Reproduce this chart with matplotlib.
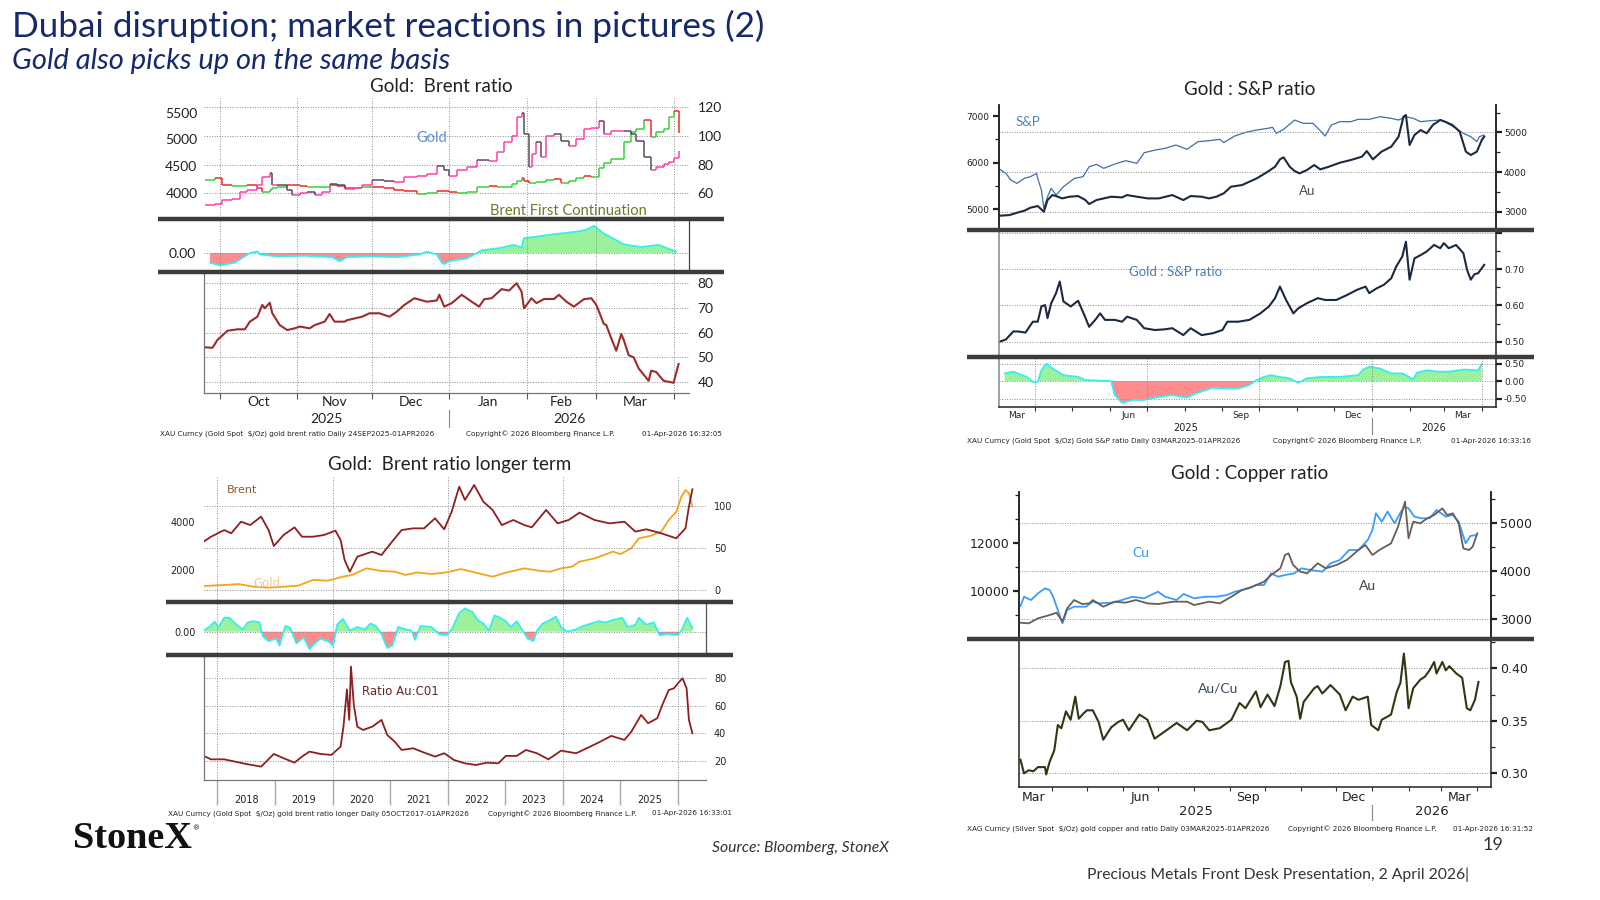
import numpy as np
import pandas as pd
import matplotlib
matplotlib.use("Agg")
import matplotlib.pyplot as plt
from matplotlib.lines import Line2D
from matplotlib.collections import LineCollection

plt.rcParams['font.family'] = ['DejaVu Sans']

# ---------------- data ----------------
# Gold : Brent ratio (short term), x = days after 24 Sep 2025
tl_day = [1, 5, 8, 12, 15, 18, 22, 24, 27, 28, 30, 34, 36, 39, 42, 45, 48, 51, 54, 57,
          61, 64, 68, 73, 77, 81, 86, 90, 94, 97, 99, 102, 106, 110, 115, 118, 121, 124, 126, 128,
          129, 131, 132, 134, 136, 138, 141, 144, 147, 150, 153, 156, 159, 161, 164, 169, 172, 174, 177, 180,
          182, 185, 187, 189, 191]
tl_gold = [3770, 3800, 3865, 3895, 4020, 4050, 4140, 4300, 4370, 4140, 4140, 4050, 3960, 4000, 4020, 3960, 4020, 4170, 4140, 4080,
           4100, 4140, 4235, 4220, 4200, 4300, 4320, 4360, 4510, 4420, 4310, 4420, 4480, 4620, 4590, 4760, 4945, 5070, 5410, 5500,
           5100, 4480, 4730, 4945, 4670, 5070, 5100, 4975, 4880, 5010, 5190, 5220, 5345, 5100, 5160, 5160, 5100, 4975, 4670, 4420,
           4480, 4545, 4575, 4655, 4790]
tl_brent = [69.3, 70.5, 65.8, 64.9, 65.3, 65.8, 63.5, 61.2, 62.5, 64.0, 64.7, 65.8, 65.5, 65.0, 64.2, 64.2, 64.5, 65.8, 65.0, 64.0,
            63.5, 64.2, 64.2, 63.5, 62.3, 61.9, 59.5, 60.5, 61.9, 61.5, 61.2, 60.5, 61.2, 64.5, 65.0, 64.7, 64.7, 66.5, 68.5, 70.5,
            68.5, 67.0, 67.5, 68.0, 68.1, 69.0, 69.8, 67.4, 68.5, 70.5, 72.1, 71.5, 77.5, 81.0, 84.0, 96.0, 103, 105, 111, 99.5,
            103, 105, 113.5, 117.7, 101.9]
tl_rel_day = [3, 7, 13, 19, 22, 23, 30, 41, 52, 55, 58, 67, 78, 87, 90, 94, 96, 97, 99, 102,
              106, 109, 112, 119, 125, 128, 129, 134, 140, 150, 154, 157, 161, 169, 176, 183, 190]
tl_rel = [-0.35, -0.45, -0.35, 0.0, 0.06, -0.05, -0.12, -0.10, -0.15, -0.30, -0.15, -0.12, -0.15, -0.05, 0.05, -0.05, -0.35, -0.40, -0.30, -0.25,
          -0.20, -0.05, 0.10, 0.18, 0.30, 0.20, 0.55, 0.60, 0.68, 0.78, 0.85, 1.00, 0.72, 0.32, 0.22, 0.30, 0.05]
tl_ratio_day = [1, 4, 6, 10, 14, 17, 19, 22, 24, 25, 27, 28, 31, 34, 37, 39, 43, 45, 49, 51, 53, 57, 58,
                64, 67, 71, 75, 78, 81, 85, 90, 94, 95, 97, 100, 104, 108, 111, 113, 116, 120, 123, 126,
                128, 129, 132, 134, 137, 141, 143, 146, 149, 153, 156,
                158, 161, 162, 164, 166, 168, 169, 171, 173, 175, 179, 180, 182, 185, 189, 191]
tl_ratio = [54, 53.8, 57, 60.7, 61.3, 61.3, 64.4, 66.4, 71.2, 69.8, 72.1, 67.8, 63, 61, 61.7, 62.4, 61.7, 63, 64.4, 67.5, 64.4, 64.4, 65,
            66.4, 67.8, 67.8, 66.4, 68.5, 71.2, 73.9, 72.5, 73, 75.3, 70.5, 71.9, 75.3, 72.5, 70.5, 73.5, 73.9, 77.6, 77, 80,
            76.6, 69.8, 73.9, 71.9, 73.6, 73.6, 75.3, 72.5, 70.5, 73.5, 73.9,
            71.2, 63.5, 63, 57.6, 52.6, 59.4, 57, 50.8, 49.9, 45.4, 40.4, 44.5, 44, 40.4, 39.6, 47.2]

# Gold : Brent ratio longer term, x = decimal year
lt_gold_yr = [2017.76, 2018.12, 2018.37, 2018.63, 2018.89, 2019.15, 2019.40, 2019.66, 2019.92, 2020.18,
              2020.34, 2020.59, 2020.82, 2021.08, 2021.27, 2021.46, 2021.72, 2021.98, 2022.23, 2022.49,
              2022.78, 2023.01, 2023.33, 2023.59, 2023.78, 2023.97, 2024.16, 2024.29, 2024.55, 2024.87,
              2025.00, 2025.19, 2025.32, 2025.52, 2025.71, 2025.84, 2025.97, 2026.06, 2026.13, 2026.19, 2026.25]
lt_gold = [1338, 1380, 1420, 1310, 1270, 1310, 1350, 1590, 1560, 1725, 1795, 2070, 1970, 1930, 1795, 1900, 1835, 1900, 2040, 1890,
           1725, 1890, 2070, 1970, 1930, 2070, 2140, 2345, 2480, 2760, 2660, 2900, 3310, 3410, 3590, 4070, 4410, 5035, 5310, 5170, 4620]
lt_brent_yr = [2017.76, 2017.89, 2018.12, 2018.24, 2018.41, 2018.57, 2018.76, 2018.89, 2018.98, 2019.15,
               2019.34, 2019.47, 2019.66, 2019.85, 2020.05, 2020.14, 2020.21, 2020.30, 2020.43, 2020.69,
               2020.85, 2021.01, 2021.20, 2021.40, 2021.59, 2021.78, 2021.94, 2022.07, 2022.20, 2022.30,
               2022.46, 2022.62, 2022.78, 2022.94, 2023.14, 2023.33, 2023.46, 2023.71, 2023.91, 2024.10,
               2024.29, 2024.55, 2024.81, 2025.07, 2025.26, 2025.45, 2025.71, 2025.97, 2026.13, 2026.19, 2026.25]
lt_brent = [57.3, 63.2, 71.1, 67.2, 81, 77, 87, 71, 52.2, 65.2, 74.3, 63.2, 63.2, 65.2, 70.4, 59.3, 35.6, 21.7, 39.5, 45.5,
            41.5, 55.3, 71.1, 73.1, 73.1, 85, 72, 92.9, 122.5, 106.7, 124.5, 104.7, 94.9, 77, 83, 77, 74.3, 94.9, 79, 83,
            91.7, 83, 79, 81, 69.2, 72, 67.2, 61.3, 73.1, 98.8, 119.4]
lt_rel_yr = [2017.76, 2017.86, 2017.95, 2018.02, 2018.12, 2018.21, 2018.31, 2018.44, 2018.53, 2018.63, 2018.73, 2018.79,
             2018.89, 2019.02, 2019.08, 2019.18, 2019.27, 2019.37, 2019.50, 2019.60, 2019.69, 2019.79, 2019.92, 2020.01,
             2020.08, 2020.18, 2020.30, 2020.43, 2020.56, 2020.66, 2020.75, 2020.85, 2020.95, 2021.04, 2021.14, 2021.27,
             2021.37, 2021.43, 2021.53, 2021.72, 2021.85, 2021.98, 2022.07, 2022.20, 2022.30, 2022.43, 2022.52, 2022.62,
             2022.72, 2022.81, 2022.91, 2023.01, 2023.10, 2023.20, 2023.30, 2023.39, 2023.49, 2023.55, 2023.65, 2023.78,
             2023.88, 2023.97, 2024.07, 2024.23, 2024.36, 2024.49, 2024.62, 2024.74, 2024.87, 2025.03, 2025.13, 2025.26,
             2025.32, 2025.45, 2025.58, 2025.68, 2025.81, 2025.90, 2026.00, 2026.06, 2026.16, 2026.25]
lt_rel = [0.05, 0.2, 0.43, 0.2, 0.6, 0.6, 0.35, 0.1, 0.4, 0.45, 0.4, -0.2,
          -0.4, -0.3, -0.6, 0.25, 0.15, -0.5, -0.25, -0.75, -0.5, -0.3, -0.4, -0.6,
          0.3, 0.55, 0.05, 0.2, 0.1, 0.35, 0.25, -0.1, -0.7, -0.6, 0.2, 0.1,
          0.05, -0.35, 0.25, 0.2, -0.1, -0.15, 0.1, 0.8, 1.0, 0.85, 0.5, 0.35,
          0.05, 0.7, 0.6, 0.45, 0.2, 0.45, 0.05, -0.3, -0.4, 0.05, 0.35, 0.5,
          0.65, 0.2, 0.0, 0.1, 0.25, 0.35, 0.45, 0.4, 0.5, 0.6, 0.2, 0.3,
          0.6, 0.3, 0.4, -0.15, -0.1, -0.12, -0.15, 0.05, 0.6, 0.15]
lt_ratio_yr = [2017.76, 2017.89, 2018.12, 2018.31, 2018.50, 2018.76, 2018.98, 2019.15, 2019.34, 2019.47, 2019.60, 2019.79,
               2019.98, 2020.14, 2020.19, 2020.25, 2020.29, 2020.32, 2020.37, 2020.43, 2020.53, 2020.69, 2020.85, 2020.95,
               2021.08, 2021.20, 2021.40, 2021.59, 2021.78, 2021.94, 2022.11, 2022.30, 2022.49, 2022.68, 2022.88, 2023.01,
               2023.20, 2023.36, 2023.55, 2023.75, 2023.97, 2024.23, 2024.45, 2024.65, 2024.84, 2025.07, 2025.19, 2025.36,
               2025.48, 2025.64, 2025.74, 2025.84, 2025.93, 2026.00, 2026.08, 2026.15, 2026.19, 2026.25]
lt_ratio = [23.7, 21.2, 21.2, 19.5, 17.8, 15.9, 25.1, 22, 18.8, 23.2, 26.8, 25.1,
            24.4, 30.4, 44.9, 72, 49.8, 88.5, 60.7, 44.9, 42.5, 44.9, 49.8, 38.9,
            34, 28, 29.2, 26.1, 23.2, 25.6, 20.7, 18.3, 17.1, 18.8, 18.3, 23.7,
            23.7, 28, 25.6, 21.2, 27.5, 25.6, 29.9, 34, 38.2, 35.3, 41.3, 53.4,
            47.4, 51, 61.9, 71.5, 72.7, 76.4, 80, 72.7, 49.8, 40.1]

# Gold : S&P ratio, x = days after 3 Mar 2025
sp_day = [0, 5, 9, 14, 20, 25, 30, 31, 34, 36, 39, 42, 46, 52, 61, 68, 73, 79, 85, 94,
          103, 112, 118, 127, 135, 144, 153, 162, 171, 180, 183, 192, 201, 210, 219, 223, 226, 232, 241, 248,
          256, 263, 266, 271, 278, 287, 293, 302, 311, 320, 326, 332, 338, 344, 352, 361, 367, 373, 379, 385,
          390, 392, 396]
sp_val = [5857, 5771, 5629, 5557, 5664, 5700, 5771, 5664, 5414, 5021, 5271, 5450, 5307, 5486, 5664, 5700, 5914, 5964, 5879, 5971,
          6043, 5986, 6214, 6271, 6307, 6379, 6286, 6450, 6471, 6500, 6429, 6571, 6650, 6700, 6736, 6757, 6629, 6714, 6914, 6843,
          6843, 6657, 6571, 6807, 6879, 6879, 6929, 6929, 6986, 6950, 6914, 6986, 6950, 6879, 6900, 6914, 6829, 6736, 6629, 6557,
          6450, 6557, 6593]
au_sp_day = [0, 8, 14, 20, 25, 31, 36, 39, 43, 46, 51, 57, 64, 70, 73, 79, 85, 91, 100, 104,
             112, 121, 130, 141, 150, 156, 165, 171, 177, 183, 189, 198, 204, 210, 219, 225, 229, 232, 237, 241,
             245, 251, 257, 262, 269, 278, 287, 296, 300, 305, 312, 320, 326, 330, 332, 335, 339, 344, 349, 354,
             360, 364, 370, 376, 381, 385, 390, 394, 396]
au_sp_val = [2899, 2916, 2975, 3025, 3101, 3143, 3000, 3294, 3420, 3395, 3336, 3378, 3395, 3294, 3193, 3294, 3336, 3378, 3361, 3420,
             3378, 3336, 3336, 3420, 3294, 3395, 3378, 3336, 3378, 3462, 3630, 3672, 3756, 3840, 4008, 4134, 4319, 4370, 4134, 4025,
             3966, 4050, 4176, 4067, 4134, 4235, 4303, 4387, 4529, 4319, 4513, 4639, 4891, 5395, 5437, 4681, 4933, 5059, 4975, 5185,
             5311, 5269, 5185, 5017, 4513, 4429, 4513, 4807, 4891]
gs_day = [0, 5, 11, 15, 21, 27, 31, 34, 37, 39, 42, 46, 49, 52, 58, 64, 69, 73, 78, 82,
          86, 94, 100, 104, 112, 118, 127, 135, 141, 150, 156, 165, 174, 182, 186, 195, 204, 213, 220, 225,
          229, 234, 240, 244, 251, 260, 266, 275, 284, 292, 299, 302, 308, 314, 320, 324, 329, 332, 335, 339,
          344, 349, 355, 360, 363, 367, 373, 379, 382, 385, 388, 391, 396]
gs_ratio = [0.500, 0.506, 0.528, 0.528, 0.525, 0.555, 0.555, 0.597, 0.601, 0.565, 0.606, 0.634, 0.666, 0.611, 0.597, 0.613, 0.574, 0.541, 0.560, 0.578,
            0.560, 0.560, 0.555, 0.569, 0.560, 0.537, 0.532, 0.534, 0.537, 0.518, 0.537, 0.518, 0.523, 0.532, 0.555, 0.555, 0.560, 0.578, 0.597, 0.620,
            0.652, 0.615, 0.578, 0.592, 0.606, 0.620, 0.615, 0.615, 0.629, 0.643, 0.652, 0.634, 0.647, 0.657, 0.675, 0.707, 0.735, 0.776, 0.671, 0.730,
            0.739, 0.749, 0.767, 0.758, 0.772, 0.758, 0.767, 0.744, 0.698, 0.671, 0.686, 0.689, 0.712]
gs_rel_day = [4, 11, 22, 27, 31, 34, 38, 43, 52, 64, 70, 91, 94, 100, 109, 118, 130, 141, 153, 162,
              174, 186, 195, 204, 210, 216, 222, 228, 237, 244, 251, 263, 278, 293, 297, 302, 311, 320, 329, 338,
              341, 349, 358, 367, 379, 391, 394]
gs_rel = [0.22, 0.27, 0.12, -0.02, -0.02, 0.31, 0.50, 0.36, 0.17, 0.12, 0.03, 0.0, -0.40, -0.62, -0.54, -0.54, -0.45, -0.40, -0.47, -0.33,
          -0.19, -0.21, -0.21, -0.11, 0.03, 0.12, 0.17, 0.12, 0.08, -0.05, 0.08, 0.12, 0.12, 0.17, 0.33, 0.41, 0.36, 0.22, 0.22, 0.05,
          0.24, 0.31, 0.27, 0.27, 0.33, 0.31, 0.49]

# Gold : Copper ratio, x = days after 3 Mar 2025
cu_day = [2, 5, 11, 17, 23, 27, 30, 33, 38, 42, 48, 58, 64, 70, 80, 89, 98, 108, 120, 126,
          136, 142, 151, 161, 170, 179, 186, 192, 198, 204, 211, 217, 223, 229, 237, 243, 251, 261, 268, 276,
          284, 292, 300, 304, 307, 312, 317, 323, 331, 335, 340, 346, 353, 359, 367, 373, 378, 384, 388, 393]
cu_val = [9361, 9750, 9611, 9889, 10097, 10028, 9750, 9333, 8639, 9194, 9333, 9333, 9542, 9472, 9500, 9611, 9750, 9681, 9958, 9750,
          9611, 9861, 9681, 9750, 9750, 9819, 9958, 10028, 10097, 10236, 10236, 10722, 10583, 10653, 10722, 10931, 10861, 10792, 11139, 11278,
          11694, 11694, 12111, 12528, 13222, 12875, 13292, 12806, 13500, 13431, 13083, 13014, 13014, 13361, 13083, 13153, 12875, 11972, 12278, 12319]
au_cu_day = [2, 9, 17, 27, 33, 38, 42, 48, 55, 61, 64, 73, 83, 92, 101, 111, 120, 133, 145, 151,
             164, 173, 183, 192, 201, 211, 217, 225, 229, 232, 236, 242, 248, 257, 264, 273, 282, 292, 298, 304,
             310, 320, 326, 332, 335, 339, 345, 351, 357, 364, 368, 373, 378, 382, 387, 390, 394]
au_cu_val = [2924, 2910, 3014, 3083, 3131, 2945, 3221, 3394, 3311, 3325, 3394, 3256, 3360, 3339, 3394, 3325, 3311, 3360, 3360, 3291,
             3360, 3325, 3464, 3602, 3671, 3775, 3913, 4052, 4329, 4363, 4121, 3983, 3948, 4156, 4052, 4121, 4225, 4433, 4536, 4329,
             4433, 4571, 4917, 5436, 4675, 5021, 4986, 5090, 5159, 5298, 5159, 5194, 4986, 4467, 4433, 4502, 4779]
ac_day = [2, 5, 9, 13, 17, 23, 24, 27, 31, 34, 37, 41, 45, 49, 52, 56, 59, 64, 69, 73,
          80, 86, 90, 95, 104, 111, 117, 126, 136, 145, 153, 158, 164, 173, 183, 190, 195, 204, 208, 214,
          220, 225, 229, 232, 234, 239, 242, 245, 254, 257, 261, 268, 276, 281, 287, 292, 300, 303, 309, 312,
          320, 325, 328, 331, 333, 335, 339, 345, 349, 353, 357, 359, 364, 367, 370, 376, 381, 385, 388, 392, 395]
ac_ratio = [0.313, 0.300, 0.303, 0.302, 0.306, 0.306, 0.299, 0.311, 0.322, 0.346, 0.343, 0.359, 0.351, 0.373, 0.352, 0.357, 0.360, 0.360, 0.349, 0.332,
            0.344, 0.349, 0.351, 0.341, 0.356, 0.351, 0.333, 0.340, 0.348, 0.341, 0.350, 0.349, 0.341, 0.343, 0.351, 0.367, 0.362, 0.378, 0.363, 0.375,
            0.364, 0.383, 0.406, 0.407, 0.387, 0.373, 0.352, 0.368, 0.381, 0.383, 0.376, 0.384, 0.375, 0.360, 0.373, 0.370, 0.373, 0.346, 0.341, 0.351,
            0.356, 0.378, 0.386, 0.414, 0.392, 0.362, 0.381, 0.389, 0.392, 0.398, 0.406, 0.395, 0.406, 0.398, 0.402, 0.395, 0.391, 0.362, 0.360, 0.370, 0.387]

COPY = 'Copyright\u00a9 2026 Bloomberg Finance L.P.'
NAVY = '#16296a'
INK = '#222222'
GRID = dict(color='#8a8a8a', linewidth=0.7, linestyle=(0, (1, 1.6)))
FOOT = 5.2

# ---------------- helpers ----------------
W, H = 1568.0, 882.0          # layout measured on the slide at this scale
fig = plt.figure(figsize=(16, 9), dpi=100)


def box(x0, y0, x1, y1):
    return fig.add_axes([x0 / W, 1 - y1 / H, (x1 - x0) / W, (y1 - y0) / H])


def ftext(x, y, s, **kw):
    kw.setdefault('va', 'center')
    return fig.text(x / W, 1 - y / H, s, **kw)


def sep(y, x0, x1):
    fig.add_artist(Line2D([x0 / W, x1 / W], [1 - y / H] * 2, color='#3c3c3c',
                          lw=3.2, solid_capstyle='butt', zorder=10))


def spines(ax, keep=(), color='#333333', lw=0.9):
    for k, s in ax.spines.items():
        s.set_visible(k in keep)
        s.set_color(color)
        s.set_linewidth(lw)


def step_bars(ax, x, y, up, down, lw):
    segs, cols = [], []
    for i in range(1, len(y)):
        c = up if y[i] >= y[i - 1] else down
        segs.append([(x[i - 1], y[i - 1]), (x[i], y[i - 1])])
        segs.append([(x[i], y[i - 1]), (x[i], y[i])])
        cols += [c, c]
    ax.add_collection(LineCollection(segs, colors=cols, linewidths=lw))


def area(ax, x, v):
    x = np.asarray(x, float)
    v = np.asarray(v, float)
    ax.fill_between(x, v, 0, where=v >= 0, interpolate=True, color='#9cf29c', lw=0)
    ax.fill_between(x, v, 0, where=v <= 0, interpolate=True, color='#ff8c8c', lw=0)
    ax.plot(x, v, color='#35eef2', lw=1.3)


def year_labels(ax, lim, jan, y, size, div):
    tr = ax.get_xaxis_transform()
    ax.text((lim[0] + jan) / 2, y, '2025', transform=tr, ha='center', va='center', fontsize=size, color=INK)
    ax.text((jan + lim[1]) / 2, y, '2026', transform=tr, ha='center', va='center', fontsize=size, color=INK)
    ax.plot([jan, jan], div, transform=tr, clip_on=False, color='#8a8a8a', lw=0.8)


# ---------------- slide header / footer ----------------
ftext(12, 25.5, 'Dubai disruption; market reactions in pictures (2)', fontsize=25.3, color=NAVY, family='Lato')
ftext(12, 60, 'Gold also picks up on the same basis', fontsize=21, color=NAVY, family='Lato', style='italic')
ftext(72, 822, 'StoneX', fontsize=27.5, family='Liberation Serif', weight='bold', color='#111111')
ftext(189, 812, '\u00ae', fontsize=5, color='#111111')
ftext(698, 831, 'Source: Bloomberg, StoneX', fontsize=11.3, family='Lato', style='italic', color='#333333')
ftext(1473, 828, '19', fontsize=13, family='Lato', ha='right', color='#333333')
ftext(1065, 857, 'Precious Metals Front Desk Presentation, 2 April 2026|', fontsize=11.3, family='Lato', color='#333333')

ftext(432, 85, 'Gold:  Brent ratio', fontsize=13.5, family='Lato', ha='center', color=INK)
ftext(441, 455, 'Gold:  Brent ratio longer term', fontsize=13.5, family='Lato', ha='center', color=INK)
ftext(1225, 88, 'Gold : S&P ratio', fontsize=13.5, family='Lato', ha='center', color=INK)
ftext(1225, 464, 'Gold : Copper ratio', fontsize=13.5, family='Lato', ha='center', color=INK)

# ================= top left: Gold : Brent ratio =================
tl0 = pd.Timestamp('2025-09-24')
tl_lim = (0.8, 195.3)
tl_ms = pd.date_range('2025-10-01', '2026-04-01', freq='MS')
tl_mt = np.array((tl_ms - tl0).days, dtype=float)
tl_jan = float((pd.Timestamp('2026-01-01') - tl0).days)
TLF = dict(labelsize=10, labelcolor=INK, labelfontfamily='Lato')

axb = box(200.4, 96.4, 675.5, 215.6)
axg = axb.twinx()
step_bars(axb, tl_day, tl_brent, '#39cf39', '#f22a2a', 1.1)
step_bars(axg, tl_day, tl_gold, '#ff40a8', '#5a4a60', 1.1)
axb.set_xlim(tl_lim)
axb.set_ylim(41.4, 126.3)
axg.set_ylim(3494, 5765)
axb.yaxis.tick_right()
axg.yaxis.tick_left()
axb.set_yticks([60, 80, 100, 120])
axg.set_yticks([4000, 4500, 5000, 5500])
axb.set_xticks(tl_mt)
for a in (axb, axg):
    spines(a)
    a.tick_params(length=0, labelbottom=False, **TLF)
axb.tick_params(axis='y', pad=6)
axg.tick_params(axis='y', pad=5)
axb.grid(True, **GRID)
ftext(423, 135, 'Gold', fontsize=10.5, family='Lato', ha='center', color='#5b8ed6')
ftext(557, 207, 'Brent First Continuation', fontsize=10.5, family='Lato', ha='center', color='#6b7b2b')

ax = box(200.4, 215.6, 675.5, 266.2)
area(ax, tl_rel_day, tl_rel)
ax.set_xlim(tl_lim)
ax.set_ylim(-0.68, 1.21)
ax.set_yticks([0])
ax.set_yticklabels(['0.00'])
ax.set_xticks(tl_mt)
spines(ax, ['right'], '#444444')
ax.tick_params(length=0, labelbottom=False, pad=6, **TLF)
ax.grid(True, **GRID)

ax = box(200.4, 266.2, 675.5, 385.5)
ax.plot(tl_ratio_day, tl_ratio, color='#9b2c2c', lw=1.5)
ax.set_xlim(tl_lim)
ax.set_ylim(35.3, 84.7)
ax.yaxis.tick_right()
ax.set_yticks([40, 50, 60, 70, 80])
ax.set_xticks(tl_mt)
ax.set_xticklabels([])
ax.set_xticks((tl_mt[:-1] + tl_mt[1:]) / 2, minor=True)
ax.set_xticklabels(list(tl_ms[:-1].strftime('%b')), minor=True)
ax.tick_params(axis='y', length=0, pad=6, **TLF)
ax.tick_params(axis='x', which='major', length=4, color='#555555')
ax.tick_params(axis='x', which='minor', length=0, pad=2, **TLF)
ax.grid(True, which='major', **GRID)
spines(ax, ['left', 'bottom'], '#777777')
year_labels(ax, tl_lim, tl_jan, -0.214, 10, (-0.137, -0.274))
for t in ax.texts:
    t.set_family('Lato')

sep(214.5, 155, 710)
sep(266.2, 155, 710)
ftext(157, 425, 'XAU Curncy (Gold Spot  $/Oz) gold brent ratio Daily 24SEP2025-01APR2026', fontsize=FOOT, color=INK)
ftext(457, 425, COPY, fontsize=FOOT, color=INK)
ftext(708, 425, '01-Apr-2026 16:32:05', fontsize=FOOT, color=INK, ha='right')

# ================= bottom left: longer term =================
bl_lim = (2017.762, 2026.48)
even = [2018, 2020, 2022, 2024, 2026]
BLF = dict(labelsize=7, labelcolor=INK)

axg = box(199.6, 467.1, 691.5, 590.3)
axb = axg.twinx()
axg.plot(lt_gold_yr, lt_gold, color='#f5a31a', lw=1.3)
axb.plot(lt_brent_yr, lt_brent, color='#8e1f1f', lw=1.3)
axg.set_xlim(bl_lim)
axg.set_ylim(663, 5862)
axb.set_ylim(-14.6, 134.4)
axg.set_yticks([2000, 4000])
axb.set_yticks([0, 50, 100])
axg.set_xticks(even)
for a in (axg, axb):
    spines(a)
    a.tick_params(length=0, labelbottom=False, pad=6, **BLF)
axg.grid(True, axis='x', **GRID)
axb.grid(True, axis='y', **GRID)
ftext(222, 480, 'Brent', fontsize=8, color='#8b5a2b')
ftext(262, 572, 'Gold', fontsize=8.5, ha='center', color='#f7c98a')

ax = box(199.6, 590.3, 691.5, 641.9)
area(ax, lt_rel_yr, lt_rel)
ax.set_xlim(bl_lim)
ax.set_ylim(-1.0, 1.26)
ax.set_yticks([0])
ax.set_yticklabels(['0.00'])
ax.set_xticks(even)
spines(ax, ['right'], '#555555')
ax.tick_params(length=0, labelbottom=False, pad=6, **BLF)
ax.grid(True, **GRID)

ax = box(199.6, 641.9, 691.5, 764.4)
ax.plot(lt_ratio_yr, lt_ratio, color='#8e1f1f', lw=1.3)
ax.set_xlim(bl_lim)
ax.set_ylim(6.2, 96.9)
ax.yaxis.tick_right()
ax.set_yticks([20, 40, 60, 80])
years = np.arange(2018, 2027)
ax.set_xticks(years)
ax.set_xticklabels([])
ax.set_xticks(years[:-1] + 0.5, minor=True)
ax.set_xticklabels([str(y) for y in years[:-1]], minor=True)
ax.tick_params(axis='y', length=0, pad=6, **BLF)
ax.tick_params(axis='x', which='major', length=18, color='#aaaaaa', width=1)
ax.tick_params(axis='x', which='minor', length=0, pad=11, **BLF)
ax.grid(True, axis='y', **GRID)
for y in even:
    ax.axvline(y, **GRID)
spines(ax, ['left', 'bottom'], '#777777')
ftext(355, 678, 'Ratio Au:C01', fontsize=8.5, color='#6b2424')

sep(590.3, 163, 718)
sep(641.9, 163, 718)
ftext(165, 797, 'XAU Curncy (Gold Spot  $/Oz) gold brent ratio longer Daily 05OCT2017-01APR2026', fontsize=FOOT, color=INK)
ftext(478, 797, COPY, fontsize=FOOT, color=INK)
ftext(717, 797, '01-Apr-2026 16:33:01', fontsize=FOOT, color=INK, ha='right')

# ================= shared month axis for the 2025-26 charts =================
sp0 = pd.Timestamp('2025-03-03')
m_starts = pd.date_range('2025-04-01', '2026-04-01', freq='MS')
m_ticks = np.array((m_starts - sp0).days, dtype=float)
lab_m = pd.to_datetime(['2025-03-01', '2025-06-01', '2025-09-01', '2025-12-01', '2026-03-01'])
lab_x = np.array((lab_m - sp0).days, dtype=float) + lab_m.days_in_month.values / 2
q_lines = np.array((pd.date_range('2025-04-01', '2026-04-01', freq='QS') - sp0).days, dtype=float)
jan26 = float((pd.Timestamp('2026-01-01') - sp0).days)


def month_axis(ax, size, pad, ylab, div):
    ax.set_xticks(m_ticks)
    ax.set_xticklabels([])
    ax.set_xticks(lab_x, minor=True)
    ax.set_xticklabels(list(lab_m.strftime('%b')), minor=True)
    ax.tick_params(axis='x', which='major', length=3, color='#333333', direction='out')
    ax.tick_params(axis='x', which='minor', length=0, pad=pad, labelsize=size, labelcolor=INK)
    year_labels(ax, ax.get_xlim(), jan26, ylab, size + 0.5, div)


def side_ticks(ax, major, minor, labels, size, pad):
    ax.set_yticks(major)
    ax.set_yticks(minor, minor=True)
    ax.set_yticklabels(labels)
    ax.tick_params(axis='y', which='major', length=4, width=1.6, color='#222222', pad=pad,
                   labelsize=size, labelcolor=INK)
    ax.tick_params(axis='y', which='minor', length=3, width=0.9, color='#222222')


# ================= top right: Gold : S&P =================
tr_lim = (-0.43, 405.9)
axs = box(979.3, 102.9, 1466.4, 224.8)
axa = axs.twinx()
axs.plot(sp_day, sp_val, color='#3d6fa8', lw=0.9)
axa.plot(au_sp_day, au_sp_val, color='#1b2a40', lw=1.5)
axs.set_xlim(tr_lim)
axs.set_ylim(4571, 7236)
axa.set_ylim(2555, 5689)
side_ticks(axs, [5000, 6000, 7000], [5500, 6500], ['5000', '6000', '7000'], 6.5, 3)
side_ticks(axa, [3000, 4000, 5000], [3500, 4500, 5500], ['3000', '4000', '5000'], 6.5, 1.5)
for a in (axs, axa):
    spines(a, ['left', 'right'], '#222222', 1.1)
    a.tick_params(axis='x', length=0, labelbottom=False)
axa.grid(True, axis='y', **GRID)
ftext(995, 120, 'S&P', fontsize=9.5, family='Lato', color='#4b82c3')
ftext(1281, 187, 'Au', fontsize=9.5, family='Lato', ha='center', color='#5c4a3a')

ax = box(979.3, 224.8, 1466.4, 349.5)
ax.plot(gs_day, gs_ratio, color='#1b2a40', lw=1.5)
ax.set_xlim(tr_lim)
ax.set_ylim(0.4585, 0.81)
ax.yaxis.tick_right()
side_ticks(ax, [0.5, 0.6, 0.7, 0.8], [0.55, 0.65, 0.75], ['0.50', '0.60', '0.70', ''], 6.5, 1.5)
spines(ax, ['left', 'right'], '#222222', 1.1)
ax.spines['left'].set_color('#888888')
ax.tick_params(axis='x', length=0, labelbottom=False)
ax.grid(True, axis='y', **GRID)
ftext(1152, 267, 'Gold : S&P ratio', fontsize=9.5, family='Lato', ha='center', color='#4b7bb5')

ax = box(979.3, 349.5, 1466.4, 398.5)
area(ax, gs_rel_day, gs_rel)
ax.set_xlim(tr_lim)
ax.set_ylim(-0.73, 0.70)
ax.yaxis.tick_right()
side_ticks(ax, [-0.5, 0, 0.5], [], ['-0.50', '0.00', '0.50'], 6.5, 1.5)
spines(ax, ['left', 'right', 'bottom'], '#222222', 1.1)
ax.spines['left'].set_color('#888888')
ax.grid(True, axis='y', **GRID)
for q in q_lines:
    ax.axvline(q, **GRID)
month_axis(ax, 6.5, 3, -0.418, (-0.235, -0.541))

sep(225.0, 948, 1503)
sep(349.5, 948, 1503)
ftext(948, 432, 'XAU Curncy (Gold Spot  $/Oz) Gold S&P ratio Daily 03MAR2025-01APR2026', fontsize=FOOT, color=INK)
ftext(1248, 432, COPY, fontsize=FOOT, color=INK)
ftext(1500, 432, '01-Apr-2026 16:33:16', fontsize=FOOT, color=INK, ha='right')

# ================= bottom right: Gold : Copper =================
br_lim = (0.6, 405.6)
axc = box(998.5, 481.8, 1461, 625.6)
axu = axc.twinx()
axc.plot(cu_day, cu_val, color='#3a9bff', lw=1.3)
axu.plot(au_cu_day, au_cu_val, color='#6a5d55', lw=1.3)
axc.set_xlim(br_lim)
axc.set_ylim(8014, 14125)
axu.set_ylim(2599, 5644)
side_ticks(axc, [10000, 12000], [9000, 11000, 13000, 14000], ['10000', '12000'], 9, 3)
side_ticks(axu, [3000, 4000, 5000], [3500, 4500, 5500], ['3000', '4000', '5000'], 9, 2.5)
for a in (axc, axu):
    spines(a, ['left', 'right'], '#222222', 1.1)
    a.tick_params(axis='x', length=0, labelbottom=False)
axu.grid(True, axis='y', **GRID)
ftext(1118, 542, 'Cu', fontsize=10, family='Lato', ha='center', color='#3399ff')
ftext(1340, 574, 'Au', fontsize=10, family='Lato', ha='center', color='#444444')

ax = box(998.5, 627.8, 1461, 771)
ax.plot(ac_day, ac_ratio, color='#2b3a12', lw=1.5)
ax.set_xlim(br_lim)
ax.set_ylim(0.2873, 0.4263)
ax.yaxis.tick_right()
side_ticks(ax, [0.30, 0.35, 0.40], [0.325, 0.375, 0.425], ['0.30', '0.35', '0.40'], 9, 2.5)
spines(ax, ['left', 'right', 'bottom'], '#222222', 1.1)
ax.grid(True, axis='y', **GRID)
month_axis(ax, 9, 3, -0.172, (-0.124, -0.228))
ftext(1194, 675, 'Au/Cu', fontsize=10, family='Lato', ha='center', color='#3e4a5e')

sep(626.7, 948, 1503)
ftext(948, 812, 'XAG Curncy (Silver Spot  $/Oz) gold copper and ratio Daily 03MAR2025-01APR2026', fontsize=FOOT, color=INK)
ftext(1262, 812, COPY, fontsize=FOOT, color=INK)
ftext(1502, 812, '01-Apr-2026 16:31:52', fontsize=FOOT, color=INK, ha='right')

fig.savefig('out.png', dpi=100, facecolor='white')
